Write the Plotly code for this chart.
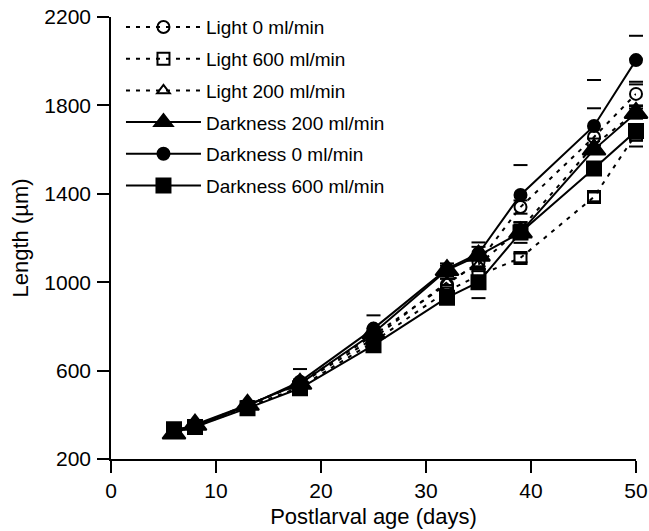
import plotly.graph_objects as go

days = [6, 8, 13, 18, 25, 32, 35, 39, 46, 50]

light_0 = [325, 350, 440, 545, 760, 990, 1090, 1340, 1657, 1852]
light_0_se = [10, 10, 12, 15, 20, 25, 30, 30, 130, 55]
light_600 = [330, 345, 435, 525, 730, 960, 1030, 1110, 1386, 1670]
light_600_se = [10, 10, 12, 15, 20, 25, 30, 20, 20, 30]
light_200 = [320, 350, 445, 540, 745, 1000, 1080, 1240, 1620, 1770]
light_200_se = [10, 10, 12, 15, 20, 25, 30, 30, 30, 30]
dark_200 = [315, 355, 445, 540, 770, 1055, 1120, 1225, 1600, 1766]
dark_200_se = [10, 10, 15, 15, 20, 20, 60, 47, 20, 20]
dark_0 = [330, 350, 440, 550, 790, 1060, 1130, 1395, 1707, 2005]
dark_0_se = [10, 10, 12, 57, 60, 25, 30, 135, 208, 110]
dark_600 = [335, 345, 430, 520, 715, 930, 1000, 1225, 1515, 1684]
dark_600_se = [10, 10, 12, 15, 20, 20, 72, 30, 20, 70]

names = ["Light 0 ml/min", "Light 600 ml/min", "Light 200 ml/min",
         "Darkness 200 ml/min", "Darkness 0 ml/min", "Darkness 600 ml/min"]

series = [
    (names[0], light_0, light_0_se, "circle-open", 12, "4px,6px"),
    (names[1], light_600, light_600_se, "square-open", 12, "4px,6px"),
    (names[2], light_200, light_200_se, "triangle-up-open", 11, "4px,6px"),
    (names[3], dark_200, dark_200_se, "triangle-up", 20, "solid"),
    (names[4], dark_0, dark_0_se, "circle", 12, "solid"),
    (names[5], dark_600, dark_600_se, "square", 14, "solid"),
]

fig = go.Figure()

# error-bar caps (stems are not visible in the original)
cap_x, cap_y = [], []
for _, ys, se, _, _, _ in series:
    for d, v, s in zip(days, ys, se):
        cap_x += [d, d]
        cap_y += [v + s, v - s]
fig.add_trace(go.Scatter(
    x=cap_x, y=cap_y, mode="markers", showlegend=False, hoverinfo="skip",
    marker=dict(symbol="line-ew", size=10, color="black",
                line=dict(color="black", width=2)),
    cliponaxis=False,
))

for i, (nm, ys, se, sym, sz, dash) in enumerate(series):
    fig.add_trace(go.Scatter(
        x=days, y=ys, name=nm, mode="lines+markers",
        legendgroup=f"g{i}",
        line=dict(color="black", width=2, dash=dash),
        marker=dict(symbol=sym, size=sz, color="black",
                    line=dict(color="black", width=2)),
        cliponaxis=False,
    ))

font_family = "Liberation Sans, Arial, sans-serif"
fig.update_layout(
    width=649, height=531,
    margin=dict(l=111, r=13, t=17, b=72, autoexpand=False),
    paper_bgcolor="white", plot_bgcolor="white",
    font=dict(family=font_family, color="black", size=21),
    showlegend=True,
    legend=dict(x=0.019, y=1.02, xanchor="left", yanchor="top",
                bgcolor="rgba(0,0,0,0)", font=dict(size=19, family=font_family),
                traceorder="grouped", tracegroupgap=4, itemwidth=75),
    xaxis=dict(range=[0, 50], tickvals=[0, 10, 20, 30, 40, 50],
               showgrid=False, zeroline=False, showline=True, linecolor="black",
               linewidth=1.5, ticks="outside", ticklen=12, tickwidth=1.5,
               tickcolor="black", automargin=False, tickfont=dict(size=21),
               title=dict(text="Postlarval age (days)", font=dict(size=22), standoff=8)),
    yaxis=dict(range=[200, 2200], tickvals=[200, 600, 1000, 1400, 1800, 2200],
               showgrid=False, zeroline=False, showline=True, linecolor="black",
               linewidth=1.5, ticks="outside", ticklen=12, tickwidth=1.5,
               tickcolor="black", automargin=False, tickfont=dict(size=21),
               ticklabelstandoff=2,
               title=dict(text="Length (µm)", font=dict(size=22), standoff=10)),
)

# remove the page's default body margin so the figure fills the window exactly
fig.write_html("out.html", config={"displayModeBar": False},
               post_script="document.body.style.margin='0';document.body.style.overflow='hidden';")
